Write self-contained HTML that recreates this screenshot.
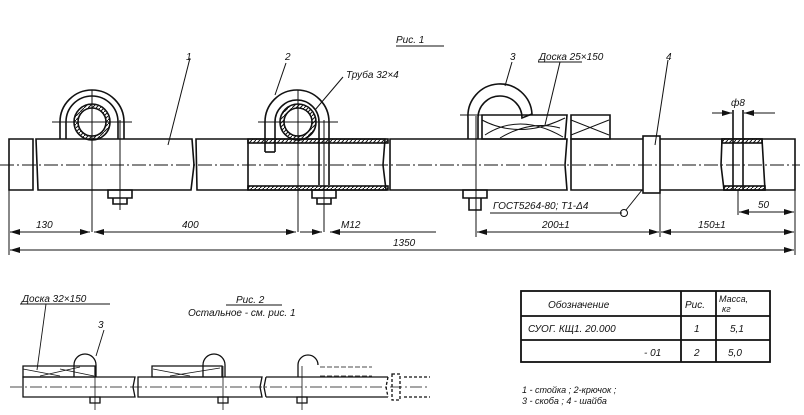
<!DOCTYPE html>
<html><head><meta charset="utf-8"><style>
body{margin:0;background:#fff}
svg{display:block}
text{font-family:"Liberation Sans",sans-serif;font-style:italic;font-size:10px;fill:#111}
</style></head><body>
<svg width="804" height="415" viewBox="0 0 804 415" xmlns="http://www.w3.org/2000/svg">
<defs>
<marker id="a" viewBox="0 0 10 6" refX="10" refY="3" markerWidth="10" markerHeight="6" orient="auto-start-reverse"><path d="M0,0L10,3L0,6z" fill="#111"/></marker>
<pattern id="h" width="4" height="4" patternUnits="userSpaceOnUse"><path d="M0,4L4,0" stroke="#111" stroke-width="1"/></pattern>
</defs>
<g stroke="#111" stroke-width="1.6" fill="none">
<path d="M9,139H33V190H9Z"/>
<path d="M36,139H192L194,165L191,190H38Z"/>
<path d="M196,139H385L383,165L386,190H197Z"/>
<path d="M390,139H567L565,165L567,190H390Z"/>
<path d="M571,139H795V190H571Z"/>
<rect x="248" y="139" width="140" height="4" fill="url(#h)"/>
<rect x="248" y="186" width="140" height="4" fill="url(#h)"/>
<line x1="248" y1="139" x2="248" y2="190"/>
<path d="M60,139V122A32,32 0 0 1 124,122V139"/>
<path d="M66,139V122A26,26 0 0 1 118,122V139"/>
<circle cx="92" cy="122" r="18" fill="url(#h)"/>
<circle cx="92" cy="122" r="14" fill="#fff"/>
<path d="M108,190h24v8h-24z M113,198h14v6h-14z"/>
<path d="M265,152V122A32,32 0 0 1 329,122V185"/>
<path d="M275,152V122A22,22 0 0 1 319,122V185"/>
<path d="M265,152h10"/>
<circle cx="298" cy="122" r="18" fill="url(#h)"/>
<circle cx="298" cy="122" r="14" fill="#fff"/>
<path d="M312,190h24v8h-24z M317,198h14v6h-14z"/>
<path d="M468,139V118A32,32 0 0 1 532,114L522,118A22,22 0 0 0 478,118V139"/>
<path d="M463,190h24v8h-24z M469,198h12v12h-12z"/>
<path d="M482,115H567L565,139H482Z"/>
<path d="M571,115H610V139H571Z"/>
<path d="M482,120Q520,140 565,118M485,135Q520,112 563,137M500,138Q530,120 560,128M571,120L609,135M571,135L609,120" stroke-width="1"/>
<rect x="643" y="136" width="17" height="57" fill="#fff"/>
<path d="M722,139H762L765,190H724L721,165Z" fill="#fff"/>
<rect x="722" y="139" width="40" height="4" fill="url(#h)"/>
<rect x="724" y="186" width="41" height="4" fill="url(#h)"/>
<line x1="733" y1="110" x2="733" y2="190"/><line x1="743" y1="110" x2="743" y2="190"/>
</g>
<g stroke="#111" stroke-width="1" fill="none">
<line x1="0" y1="165" x2="800" y2="165" stroke-dasharray="14,3,2,3"/>
<line x1="92" y1="90" x2="92" y2="232"/><line x1="52" y1="122" x2="132" y2="122"/>
<line x1="298" y1="90" x2="298" y2="232"/><line x1="258" y1="122" x2="338" y2="122"/>
<line x1="120" y1="120" x2="120" y2="210"/><line x1="324" y1="120" x2="324" y2="232"/>
<line x1="476" y1="116" x2="476" y2="237"/><line x1="460" y1="115" x2="482" y2="115"/>
<line x1="9" y1="190" x2="9" y2="255"/><line x1="795" y1="190" x2="795" y2="255"/>
<line x1="660" y1="193" x2="660" y2="237"/><line x1="738" y1="190" x2="738" y2="215"/>
<line x1="10" y1="232" x2="90" y2="232" marker-start="url(#a)" marker-end="url(#a)"/>
<line x1="94" y1="232" x2="296" y2="232" marker-start="url(#a)" marker-end="url(#a)"/>
<line x1="300" y1="232" x2="322" y2="232" marker-end="url(#a)"/>
<line x1="330" y1="232" x2="436" y2="232" marker-start="url(#a)"/>
<line x1="477" y1="232" x2="659" y2="232" marker-start="url(#a)" marker-end="url(#a)"/>
<line x1="661" y1="232" x2="794" y2="232" marker-start="url(#a)" marker-end="url(#a)"/>
<line x1="10" y1="250" x2="794" y2="250" marker-start="url(#a)" marker-end="url(#a)"/>
<line x1="739" y1="212" x2="794" y2="212" marker-start="url(#a)" marker-end="url(#a)"/>
<line x1="712" y1="113" x2="732" y2="113" marker-end="url(#a)"/><line x1="744" y1="113" x2="775" y2="113" marker-start="url(#a)"/>
<line x1="490" y1="213" x2="622" y2="213"/><circle cx="624" cy="213" r="3.5"/><line x1="626" y1="210" x2="642" y2="190"/>
<line x1="190" y1="58" x2="168" y2="145"/>
<line x1="286" y1="63" x2="275" y2="95"/>
<line x1="343" y1="77" x2="315" y2="110"/>
<line x1="512" y1="62" x2="505" y2="86"/>
<line x1="538" y1="62" x2="582" y2="62"/><line x1="560" y1="62" x2="545" y2="125"/>
<line x1="668" y1="60" x2="655" y2="145"/>
<line x1="396" y1="46" x2="444" y2="46"/>
</g>
<text x="396" y="43">Рис. 1</text>
<text x="186" y="60">1</text><text x="285" y="60">2</text>
<text x="346" y="78">Труба 32×4</text>
<text x="510" y="60">3</text><text x="539" y="60">Доска 25×150</text>
<text x="666" y="60">4</text>
<text x="731" y="106">ф8</text>
<text x="36" y="228">130</text><text x="182" y="228">400</text><text x="341" y="228">М12</text>
<text x="542" y="228">200±1</text><text x="698" y="228">150±1</text><text x="758" y="208">50</text>
<text x="493" y="209">ГОСТ5264-80; Т1-Δ4</text>
<text x="393" y="246">1350</text>
<!-- figure 2 -->
<g stroke="#111" stroke-width="1.3" fill="none">
<path d="M23,377H135L133,387L135,397H23Z"/>
<path d="M138,377H262L260,387L262,397H138Z"/>
<path d="M266,377H388M266,397H388M266,377L264,387L266,397"/>
<path d="M388,377L386,387L388,397M392,374H400V400H392ZM404,377H430M404,397H430" stroke-dasharray="3,2"/>
<path d="M23,366H95V377H23Z"/><path d="M152,366H222V377H152Z"/>
<path d="M23,369L60,376M40,376L80,367M60,369L94,376" stroke-width="0.8"/>
<path d="M153,369L190,376M170,376L220,368" stroke-width="0.8"/>
<path d="M320,367H372M320,376H372" stroke-dasharray="5,2" stroke-width="0.8"/>
<path d="M74,377V365A11,11 0 0 1 96,365V377M203,377V365A11,11 0 0 1 225,365V377M298,377V365A10,10 0 0 1 318,365"/>
<path d="M90,397h10v6h-10zM218,397h10v6h-10zM297,397h10v6h-10z"/>
<path d="M10,387H430" stroke-dasharray="12,3,2,3" stroke-width="0.8"/>
<path d="M95,366V410M223,366V410M302,366V410" stroke-width="0.8"/>
<path d="M20,304H110M46,304L37,370M226,305H282M104,330L96,356" stroke-width="0.9"/>
</g>
<text x="22" y="302">Доска 32×150</text>
<text x="98" y="328">3</text>
<text x="236" y="303">Рис. 2</text>
<text x="188" y="316">Остальное - см. рис. 1</text>
<g stroke="#111" stroke-width="1.8" fill="none">
<rect x="521" y="291" width="249" height="71"/>
<line x1="681" y1="291" x2="681" y2="362"/><line x1="716" y1="291" x2="716" y2="362"/>
<line x1="521" y1="316" x2="770" y2="316"/><line x1="521" y1="340" x2="770" y2="340"/>
</g>
<text x="548" y="308">Обозначение</text><text x="685" y="308">Рис.</text>
<text x="719" y="302" style="font-size:9px">Масса,</text><text x="722" y="312" style="font-size:9px">кг</text>
<text x="528" y="332">СУОГ. КЩ1. 20.000</text><text x="694" y="332">1</text><text x="730" y="332">5,1</text>
<text x="644" y="356">- 01</text><text x="694" y="356">2</text><text x="728" y="356">5,0</text>
<text x="522" y="393" style="font-size:9px">1 - стойка ;  2-крючок ;</text>
<text x="522" y="404" style="font-size:9px">3 - скоба ;  4 - шайба</text>
</svg>
</body></html>
